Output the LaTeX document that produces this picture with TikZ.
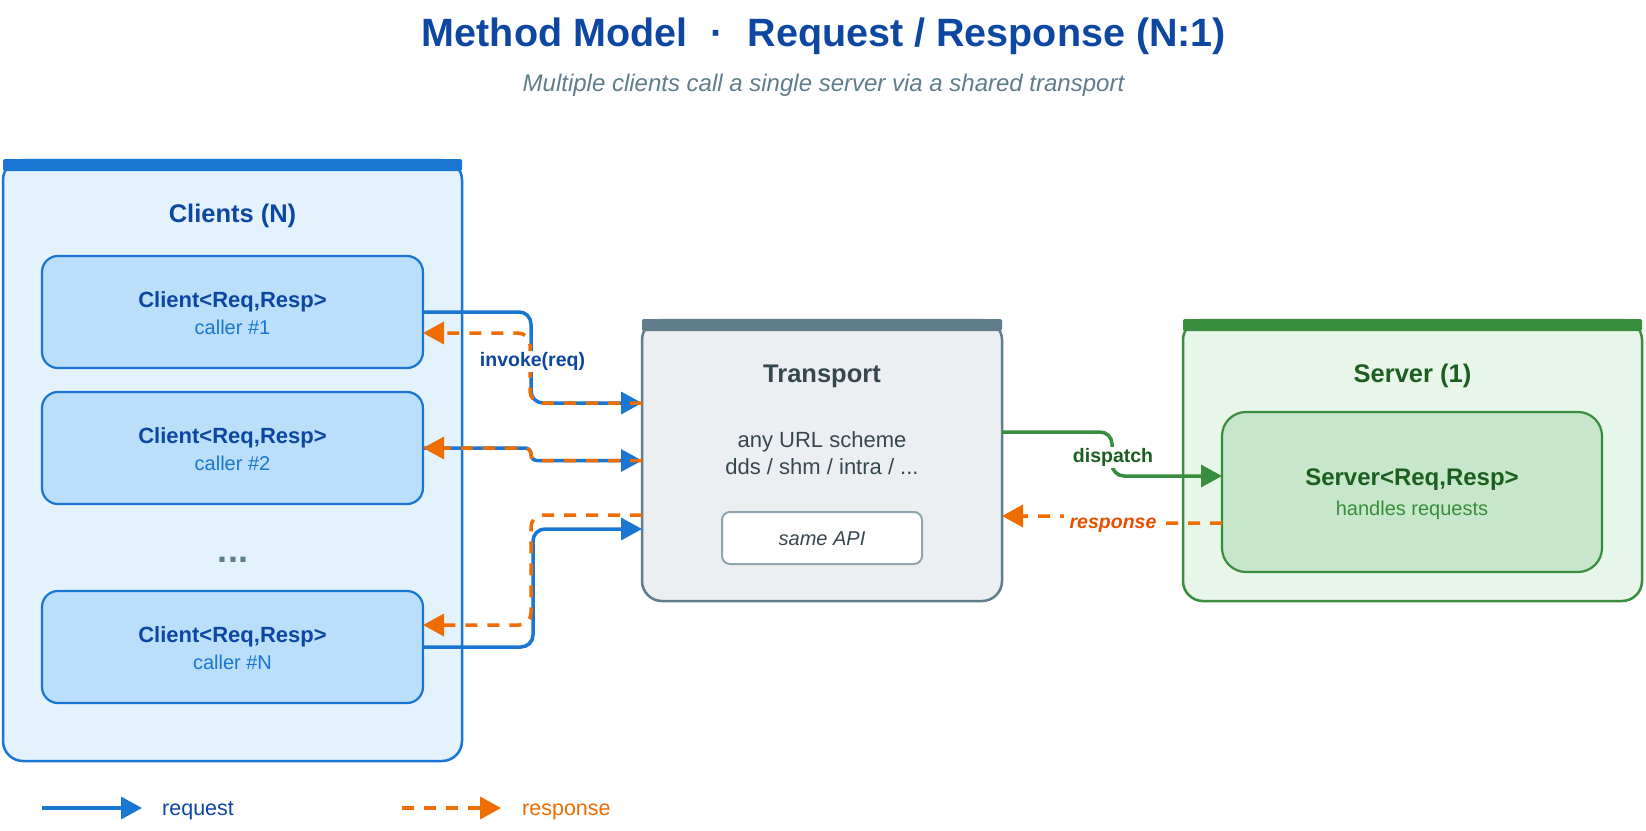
\documentclass[tikz,border=0pt]{standalone}
\usepackage{fontspec}
\setmainfont{Liberation Sans}
\usetikzlibrary{arrows.meta}
\definecolor{ttl}{HTML}{0D47A1}
\definecolor{subc}{HTML}{607D8B}
\definecolor{cliBg}{HTML}{E3F2FD}
\definecolor{cliBd}{HTML}{1976D2}
\definecolor{cliIn}{HTML}{BBDEFB}
\definecolor{trBg}{HTML}{ECEFF1}
\definecolor{trBd}{HTML}{607D8B}
\definecolor{trTx}{HTML}{37474F}
\definecolor{apiBd}{HTML}{90A4AE}
\definecolor{srvBg}{HTML}{E8F5E9}
\definecolor{srvBd}{HTML}{388E3C}
\definecolor{srvIn}{HTML}{C8E6C9}
\definecolor{srvTx}{HTML}{1B5E20}
\definecolor{orng}{HTML}{EF6C00}
\definecolor{orngD}{HTML}{E65100}
\newcommand\fsz[1]{\fontsize{#1}{#1}\selectfont}
\begin{document}
\begin{tikzpicture}[x=1pt,y=-1pt,
  cont/.style={rectangle, rounded corners=20pt, line width=2.5pt, anchor=north west, inner sep=0pt, outer sep=0pt},
  ibox/.style={rectangle, rounded corners=16pt, line width=2.2pt, anchor=north west, inner sep=0pt, outer sep=0pt},
  txt/.style={anchor=base, inner sep=0pt},
  arrtip/.style={-{Triangle[length=21pt,width=22pt]}},
  reqln/.style={draw=cliBd, line width=3.5pt, rounded corners=12pt, arrtip},
  respln/.style={draw=orng, line width=3.5pt, dash pattern=on 12pt off 10pt, rounded corners=12pt, arrtip},
  displn/.style={draw=srvBd, line width=3.5pt, rounded corners=12pt, arrtip},
  lbl/.style={anchor=base, fill=white, inner xsep=3pt, inner ysep=1pt, text height=14pt, text depth=4.5pt, font=\fsz{19.5}\bfseries}
]
\useasboundingbox[fill=white] (0,0) rectangle (1646,830);

% title
\node[txt, font=\fsz{39.5}\bfseries, text=ttl] (title) at (824,46)
  {Method Model\hspace{23.5pt}·\hspace{23.5pt}Request / Response (N:1)};
\node[txt, font=\fsz{24}\itshape, text=subc] (subtitle) at (823.5,91)
  {Multiple clients call a single server via a shared transport};

% clients container
\node[cont, fill=cliBg, draw=cliBd, minimum width=459pt, minimum height=601pt] (clients) at (3,160) {};
\fill[cliBd, rounded corners=2pt] ([yshift=1pt]clients.north west) rectangle ([yshift=-11pt]clients.north east);
\node[txt, font=\fsz{25.5}\bfseries, text=ttl] (clih) at (232.5,222) {Clients (N)};

\node[ibox, fill=cliIn, draw=cliBd, minimum width=381pt, minimum height=112pt] (c1) at (42,256) {};
\node[ibox, fill=cliIn, draw=cliBd, minimum width=381pt, minimum height=112pt] (c2) at (42,392) {};
\node[ibox, fill=cliIn, draw=cliBd, minimum width=381pt, minimum height=112pt] (c3) at (42,591) {};
\node[txt, font=\fsz{22}\bfseries, text=ttl] (c1t) at (232.5,307) {Client<Req,Resp>};
\node[txt, font=\fsz{20}, text=cliBd] (c1s) at (232.5,334) {caller \#1};
\node[txt, font=\fsz{22}\bfseries, text=ttl] (c2t) at (232.5,443) {Client<Req,Resp>};
\node[txt, font=\fsz{20}, text=cliBd] (c2s) at (232.5,470) {caller \#2};
\node[txt, font=\fsz{22}\bfseries, text=ttl] (c3t) at (232.5,642) {Client<Req,Resp>};
\node[txt, font=\fsz{20}, text=cliBd] (c3s) at (232.5,669) {caller \#N};
\node[txt, font=\fsz{36}\bfseries, text=subc] (dots) at (233,562) {...};

% transport
\node[cont, fill=trBg, draw=trBd, minimum width=360pt, minimum height=281pt] (trans) at (642,320) {};
\fill[trBd, rounded corners=2pt] ([yshift=1pt]trans.north west) rectangle ([yshift=-11pt]trans.north east);
\node[txt, font=\fsz{25.5}\bfseries, text=trTx] (trh) at (822,382) {Transport};
\node[txt, font=\fsz{22}, text=trTx] (tr1) at (822,447) {any URL scheme};
\node[txt, font=\fsz{22}, text=trTx] (tr2) at (822,474) {dds / shm / intra / ...};
\node[ibox, rounded corners=8pt, fill=white, draw=apiBd, line width=2pt, minimum width=200pt, minimum height=52pt,
  text height=14.3pt, text depth=0pt, font=\fsz{20}\itshape, text=trTx] (api) at (722,512) {same API};

% server
\node[cont, fill=srvBg, draw=srvBd, minimum width=459pt, minimum height=281pt] (server) at (1183,320) {};
\fill[srvBd, rounded corners=2pt] ([yshift=1pt]server.north west) rectangle ([yshift=-11pt]server.north east);
\node[txt, font=\fsz{25.5}\bfseries, text=srvTx] (srvh) at (1412.5,382) {Server (1)};
\node[ibox, rounded corners=24pt, fill=srvIn, draw=srvBd, minimum width=380pt, minimum height=160pt] (srvin) at (1222,412) {};
\node[txt, font=\fsz{24}\bfseries, text=srvTx] (srvt) at (1412,485) {Server<Req,Resp>};
\node[txt, font=\fsz{20}, text=srvBd] (srvs) at (1412,515) {handles requests};

% requests
\draw[reqln] (c1.east) -- (531,312) -- (531,403) -- (trans.west |- 0,403);
\draw[reqln, rounded corners=6pt] (c2.east) -- (531,448) -- (531,460.5) -- (trans.west);
\draw[reqln] (c3.east) -- (533,647) -- (533,529) -- (trans.west |- 0,529);
% responses
\draw[respln] (trans.west |- 0,403) -- (530,403) -- (530,333) -- (c1.east |- 0,333);
\draw[respln, rounded corners=6pt] (trans.west) -- (531,460.5) -- (531,448) -- (c2.east);
\draw[respln] (trans.west |- 0,515) -- (531,515) -- (531,625) -- (c3.east |- 0,625);
\node[lbl, text=ttl, inner xsep=1pt] (invk) at (532.5,366) {invoke(req)};

% dispatch / response
\draw[displn] (trans.east |- 0,432) -- (1112,432) -- (1112,476) -- (srvin.west |- 0,476);
\node[lbl, text=srvTx] (disp) at (1113,462) {dispatch};
\draw[respln, rounded corners=3pt] (srvin.west |- 0,523) -- (1113,523) -- (1113,516) -- (trans.east |- 0,516);
\node[lbl, text=orngD, inner xsep=6pt, font=\fsz{19.5}\bfseries\itshape] (resp) at (1113,528) {response};

% legend
\coordinate (lgA) at (42,808);
\coordinate (lgB) at (142,808);
\draw[reqln] (lgA) -- (lgB);
\node[txt, anchor=base west, font=\fsz{21.5}, text=ttl] (lgreq) at (162,815) {request};
\coordinate (lgC) at (402,808);
\coordinate (lgD) at (501,808);
\draw[respln] (lgC) -- (lgD);
\node[txt, anchor=base west, font=\fsz{21.5}, text=orng] (lgresp) at (522,815) {response};
\end{tikzpicture}
\end{document}
